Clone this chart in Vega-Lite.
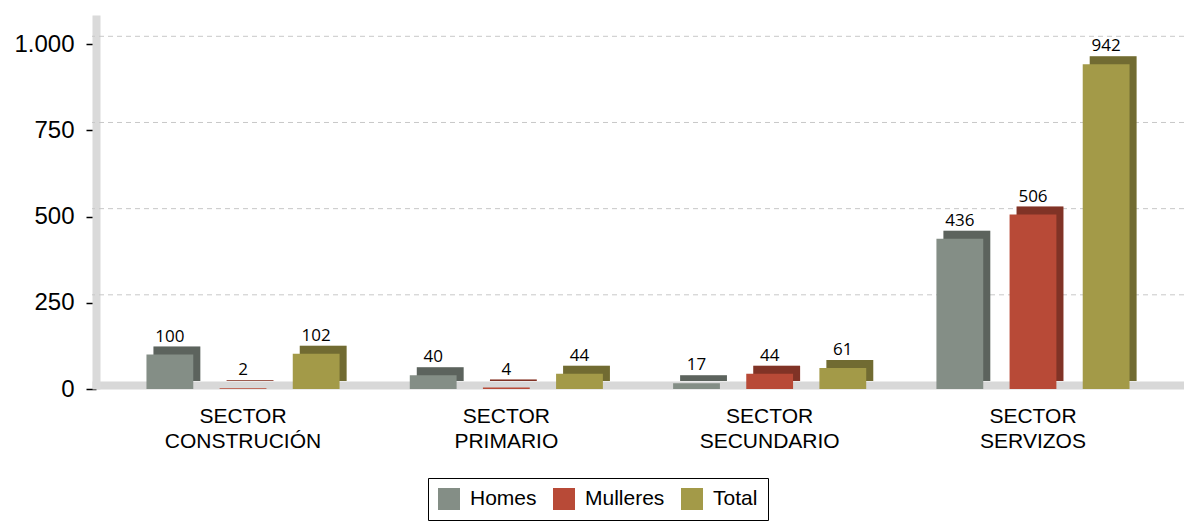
{
  "$schema": "https://vega.github.io/schema/vega-lite/v6.json",
  "autosize": "none",
  "padding": {"left": 92, "top": 15, "right": 0, "bottom": 132},
  "width": 1092,
  "height": 374,
  "background": "white",
  "config": {"view": {"stroke": null}, "font": "Liberation Sans"},
  "datasets": {
    "main": [
      {"sector": "SECTOR CONSTRUCIÓN", "series": "Homes", "value": 100},
      {"sector": "SECTOR CONSTRUCIÓN", "series": "Mulleres", "value": 2},
      {"sector": "SECTOR CONSTRUCIÓN", "series": "Total", "value": 102},
      {"sector": "SECTOR PRIMARIO", "series": "Homes", "value": 40},
      {"sector": "SECTOR PRIMARIO", "series": "Mulleres", "value": 4},
      {"sector": "SECTOR PRIMARIO", "series": "Total", "value": 44},
      {"sector": "SECTOR SECUNDARIO", "series": "Homes", "value": 17},
      {"sector": "SECTOR SECUNDARIO", "series": "Mulleres", "value": 44},
      {"sector": "SECTOR SECUNDARIO", "series": "Total", "value": 61},
      {"sector": "SECTOR SERVIZOS", "series": "Homes", "value": 436},
      {"sector": "SECTOR SERVIZOS", "series": "Mulleres", "value": 506},
      {"sector": "SECTOR SERVIZOS", "series": "Total", "value": 942}
    ],
    "grid": [{"g": 250}, {"g": 500}, {"g": 750}, {"g": 1000}]
  },
  "resolve": {"scale": {"xOffset": "independent"}},
  "layer": [
    {
      "data": {"name": "grid"},
      "mark": {"type": "rule", "color": "#c8c8c8", "strokeWidth": 1, "strokeDash": [5, 4], "yOffset": -8},
      "encoding": {
        "y": {"field": "g", "type": "quantitative", "scale": {"domain": [0, 1085], "nice": false, "zero": true},
          "axis": {"title": null, "values": [0, 250, 500, 750, 1000], "grid": false, "labelExpr": "replace(datum.label, ',', '.')", "labelFont": "Liberation Sans", "labelFontSize": 24, "labelColor": "#000000", "labelPadding": 12, "tickSize": 10, "tickColor": "#000000", "tickWidth": 1.5, "domainColor": "#dadada", "domainWidth": 8, "offset": -4}}
      }
    },
    {
      "data": {"name": "main"},
      "mark": {"type": "bar", "yOffset": -8, "y2Offset": -8},
      "encoding": {
        "x": {"field": "sector", "type": "nominal", "sort": ["SECTOR CONSTRUCIÓN", "SECTOR PRIMARIO", "SECTOR SECUNDARIO", "SECTOR SERVIZOS"], "scale": {"type": "band", "paddingInner": 0, "paddingOuter": 0.0735},
          "axis": {"title": null, "labelAngle": 0, "labelExpr": "split(datum.label, ' ')", "labelFont": "Liberation Sans", "labelFontSize": 21, "labelColor": "#000000", "labelLineHeight": 25, "labelBaseline": "top", "labelPadding": 20, "ticks": false, "tickSize": 0, "domainColor": "#d8d8d8", "domainWidth": 8, "offset": -4}},
        "xOffset": {"field": "series", "type": "nominal", "sort": ["Homes", "Mulleres", "Total"], "scale": {"type": "band", "paddingInner": 0.36, "paddingOuter": 0.48, "align": 0.6}},
        "y": {"field": "value", "type": "quantitative"},
        "color": {"field": "series", "type": "nominal", "scale": {"domain": ["Homes", "Mulleres", "Total"], "range": ["#848e86", "#b84a37", "#a39a48"]},
          "legend": {"title": null, "orient": "none", "legendX": 336, "legendY": 463, "direction": "horizontal", "symbolType": "square", "symbolSize": 484, "symbolStrokeWidth": 0, "labelFont": "Liberation Sans", "labelFontSize": 21, "labelColor": "#000000", "labelOffset": 10, "columnPadding": 16, "padding": 10, "strokeColor": "#000000", "fillColor": "#ffffff"}}
      }
    },
    {
      "data": {"name": "main"},
      "mark": {"type": "bar", "yOffset": -8, "y2Offset": -8, "color": "#000000", "opacity": 0.3},
      "encoding": {
        "x": {"field": "sector", "type": "nominal", "sort": ["SECTOR CONSTRUCIÓN", "SECTOR PRIMARIO", "SECTOR SECUNDARIO", "SECTOR SERVIZOS"]},
        "xOffset": {"field": "series", "type": "nominal", "sort": ["Homes", "Mulleres", "Total"], "scale": {"type": "band", "paddingInner": 0.36, "paddingOuter": 0.48, "align": 0.6}},
        "y": {"field": "value", "type": "quantitative"}
      }
    },
    {
      "data": {"name": "main"},
      "mark": {"type": "bar"},
      "encoding": {
        "x": {"field": "sector", "type": "nominal", "sort": ["SECTOR CONSTRUCIÓN", "SECTOR PRIMARIO", "SECTOR SECUNDARIO", "SECTOR SERVIZOS"]},
        "xOffset": {"field": "series", "type": "nominal", "sort": ["Homes", "Mulleres", "Total"], "scale": {"type": "band", "paddingInner": 0.36, "paddingOuter": 0.48}},
        "y": {"field": "value", "type": "quantitative"},
        "color": {"field": "series", "type": "nominal"}
      }
    },
    {
      "data": {"name": "main"},
      "mark": {"type": "text", "font": "Open Sans", "fontSize": 17, "color": "#000000", "baseline": "alphabetic", "dy": -13},
      "encoding": {
        "x": {"field": "sector", "type": "nominal", "sort": ["SECTOR CONSTRUCIÓN", "SECTOR PRIMARIO", "SECTOR SECUNDARIO", "SECTOR SERVIZOS"]},
        "xOffset": {"field": "series", "type": "nominal", "sort": ["Homes", "Mulleres", "Total"], "scale": {"type": "band", "paddingInner": 0.36, "paddingOuter": 0.48}},
        "y": {"field": "value", "type": "quantitative"},
        "text": {"field": "value", "type": "quantitative"}
      }
    }
  ]
}
